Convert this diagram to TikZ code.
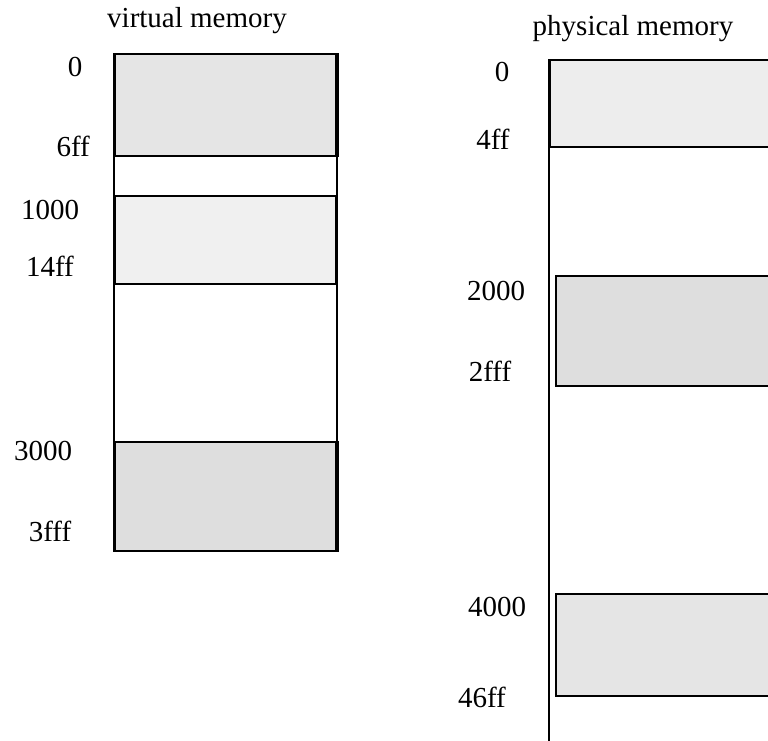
\documentclass[tikz,border=0pt]{standalone}
\usepackage{fontspec}
\setmainfont{Liberation Serif}
\begin{document}
\begin{tikzpicture}[x=1pt,y=-1pt,
  lbl/.style={inner sep=0pt,font=\fontsize{29}{34}\selectfont},
  seg/.style={draw=black,line width=2pt},
  frame/.style={draw=black,line width=2pt,fill=white}]
\useasboundingbox (0,0) rectangle (768,740);
\begin{scope}
\clip (0,0) rectangle (768,740);
% virtual memory
\node[frame,minimum width=223pt,minimum height=497pt,inner sep=0pt,anchor=north west] (vm) at (113,53) {};
\node[seg,fill=black!10,minimum width=221pt,minimum height=102pt,inner sep=0pt,anchor=north west] (v1) at (114,53) {};
\node[seg,fill=black!6,minimum width=221pt,minimum height=88pt,inner sep=0pt,anchor=north west] (v2) at (114,195) {};
\node[seg,fill=black!13,minimum width=221pt,minimum height=109pt,inner sep=0pt,anchor=north west] (v3) at (114,441) {};
\draw[line width=3pt] (v1.north west) -- (v1.south west);
\draw[line width=3pt] (v1.north east) -- (v1.south east);
\draw[line width=3pt] (v2.north west) -- (v2.south west);
\draw[line width=3pt] (v3.north east) -- (v3.south east);
% physical memory
\coordinate (ptop) at (549,59);
\coordinate (pbot) at (549,742);
\node[seg,fill=black!7,minimum width=240pt,minimum height=87pt,inner sep=0pt,anchor=north west] (p1) at (549,59) {};
\node[seg,fill=black!13,minimum width=240pt,minimum height=110pt,inner sep=0pt,anchor=north west] (p2) at (555,275) {};
\node[seg,fill=black!10,minimum width=240pt,minimum height=102pt,inner sep=0pt,anchor=north west] (p3) at (555,593) {};
\draw[line width=2pt] (ptop) -- (pbot);
\draw[line width=3pt] (p1.north west) -- (p1.south west);
\end{scope}
% labels
\node[lbl] (vt) at (197,21) {virtual memory};
\node[lbl] (pt) at (633,29) {physical memory};
\node[lbl] (v0) at (75,67) {0};
\node[lbl,anchor=east] (v6ff) at (90,146) {6ff};
\node[lbl] (v1000) at (50,210) {1000};
\node[lbl] (v14ff) at (50,266) {14ff};
\node[lbl] (v3000) at (43,451) {3000};
\node[lbl] (v3fff) at (50,531) {3fff};
\node[lbl] (p0) at (502,72) {0};
\node[lbl] (p4ff) at (493,139) {4ff};
\node[lbl] (p2000) at (496,291) {2000};
\node[lbl] (p2fff) at (490,371) {2fff};
\node[lbl] (p4000) at (497,607) {4000};
\node[lbl] (p46ff) at (482,697) {46ff};
\end{tikzpicture}
\end{document}
